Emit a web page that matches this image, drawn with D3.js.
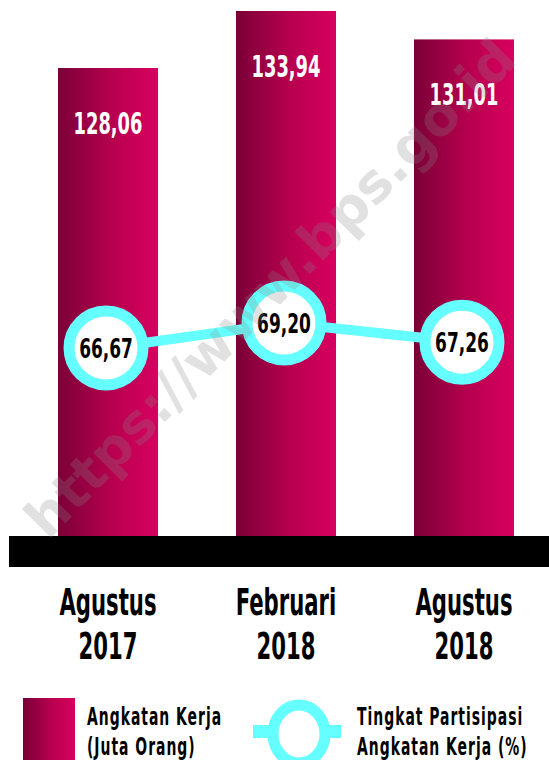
<!DOCTYPE html>
<html>
<head>
<meta charset="utf-8">
<script src="https://cdn.jsdelivr.net/npm/d3@7"></script>
<style>
  body { margin: 0; background: #fff; }
  svg { display: block; }
  text { font-family: "DejaVu Sans Condensed", "Liberation Sans Narrow", sans-serif; font-weight: bold; }
</style>
</head>
<body>
<div id="chart"></div>
<script>
// data
const periodMonths = ["Agustus", "Februari", "Agustus"];
const periodYears = ["2017", "2018", "2018"];
const angkatanKerja = [128.06, 133.94, 131.01];   // juta orang
const tpak = [66.67, 69.20, 67.26];               // persen
const legendLabels = [["Angkatan Kerja", "(Juta Orang)"], ["Tingkat Partisipasi", "Angkatan Kerja (%)"]];
const watermark = "https://www.bps.go.id";

const width = 549, height = 760;
const baseY = 536;
const cyan = "#66ffff";
const squeeze = 0.62; // fake a condensed face (no Agency FB here)

const fmt = v => d3.format(".2f")(v).replace(".", ",");

const svg = d3.select("#chart").append("svg")
    .attr("width", width)
    .attr("height", height);

const defs = svg.append("defs");
const grad = defs.append("linearGradient")
    .attr("id", "barGrad")
    .attr("x1", "0%").attr("x2", "100%").attr("y1", "0%").attr("y2", "0%");
grad.append("stop").attr("offset", "0%").attr("stop-color", "#7a0036");
grad.append("stop").attr("offset", "55%").attr("stop-color", "#b8004f");
grad.append("stop").attr("offset", "100%").attr("stop-color", "#d8005f");

const idx = d3.range(angkatanKerja.length);

const x = d3.scaleBand()
    .domain(idx)
    .range([58, 514])
    .paddingInner(0.438)
    .paddingOuter(0);

const y = d3.scaleLinear()
    .domain([79.8, 133.94])
    .range([baseY, 11]);

const y2 = d3.scaleLinear()
    .domain([66.67, 69.20])
    .range([348, 323]);

const cx = i => x(i) + x.bandwidth() / 2;

// bars
svg.append("g").selectAll("rect")
    .data(idx)
    .join("rect")
    .attr("x", i => x(i))
    .attr("y", i => y(angkatanKerja[i]))
    .attr("width", x.bandwidth())
    .attr("height", i => baseY - y(angkatanKerja[i]))
    .attr("fill", "url(#barGrad)");

// bar value labels
svg.append("g").selectAll("g")
    .data(idx)
    .join("g")
    .attr("transform", i => `translate(${cx(i)},${y(angkatanKerja[i]) + 66}) scale(0.64,1)`)
    .append("text")
    .attr("text-anchor", "middle")
    .attr("fill", "#fff")
    .attr("font-size", 31)
    .text(i => fmt(angkatanKerja[i]));

// base band
svg.append("rect")
    .attr("x", 9)
    .attr("y", baseY)
    .attr("width", width - 9)
    .attr("height", 31)
    .attr("fill", "#000");

// TPAK line
const line = d3.line()
    .x(i => cx(i))
    .y(i => y2(tpak[i]));

svg.append("path")
    .datum(idx)
    .attr("d", line)
    .attr("fill", "none")
    .attr("stroke", cyan)
    .attr("stroke-width", 10);

const dots = svg.append("g").selectAll("g")
    .data(idx)
    .join("g")
    .attr("transform", i => `translate(${cx(i) - 2},${y2(tpak[i])})`);

dots.append("circle")
    .attr("r", 37)
    .attr("fill", "#fff")
    .attr("stroke", cyan)
    .attr("stroke-width", 11);

dots.append("g")
    .attr("transform", "scale(0.7,1)")
    .append("text")
    .attr("text-anchor", "middle")
    .attr("dy", "0.36em")
    .attr("fill", "#000")
    .attr("font-size", 27)
    .text(i => fmt(tpak[i]));

// category labels
const cats = svg.append("g").selectAll("g")
    .data(idx)
    .join("g")
    .attr("transform", i => `translate(${cx(i)},0) scale(${squeeze},1)`);

cats.append("text")
    .attr("text-anchor", "middle")
    .attr("y", 615)
    .attr("font-size", 38)
    .text(i => periodMonths[i]);

cats.append("text")
    .attr("text-anchor", "middle")
    .attr("y", 659)
    .attr("font-size", 38)
    .text(i => periodYears[i]);

// legend
const legend = svg.append("g");

legend.append("rect")
    .attr("x", 23).attr("y", 698)
    .attr("width", 52).attr("height", 62)
    .attr("fill", "url(#barGrad)");

legend.append("rect")
    .attr("x", 253).attr("y", 725)
    .attr("width", 88).attr("height", 13)
    .attr("fill", cyan);

legend.append("ellipse")
    .attr("cx", 299).attr("cy", 734)
    .attr("rx", 26).attr("ry", 29)
    .attr("fill", "#fff")
    .attr("stroke", cyan)
    .attr("stroke-width", 11);

const legendX = [87, 357];
legendLabels.forEach((lines, k) => {
    const g = legend.append("g")
        .attr("transform", `translate(${legendX[k]},0) scale(${squeeze},1)`);
    lines.forEach((t, j) => {
        g.append("text")
            .attr("y", 725 + j * 30)
            .attr("font-size", 25)
            .attr("letter-spacing", 1.6)
            .text(t);
    });
});

// watermark over everything
svg.append("text")
    .attr("transform", "translate(270,288) rotate(-45.5)")
    .attr("text-anchor", "middle")
    .attr("dy", "0.35em")
    .style("font-family", "'DejaVu Sans', sans-serif")
    .attr("font-size", 54)
    .attr("fill", "#888")
    .attr("fill-opacity", 0.25)
    .text(watermark);
</script>
</body>
</html>
